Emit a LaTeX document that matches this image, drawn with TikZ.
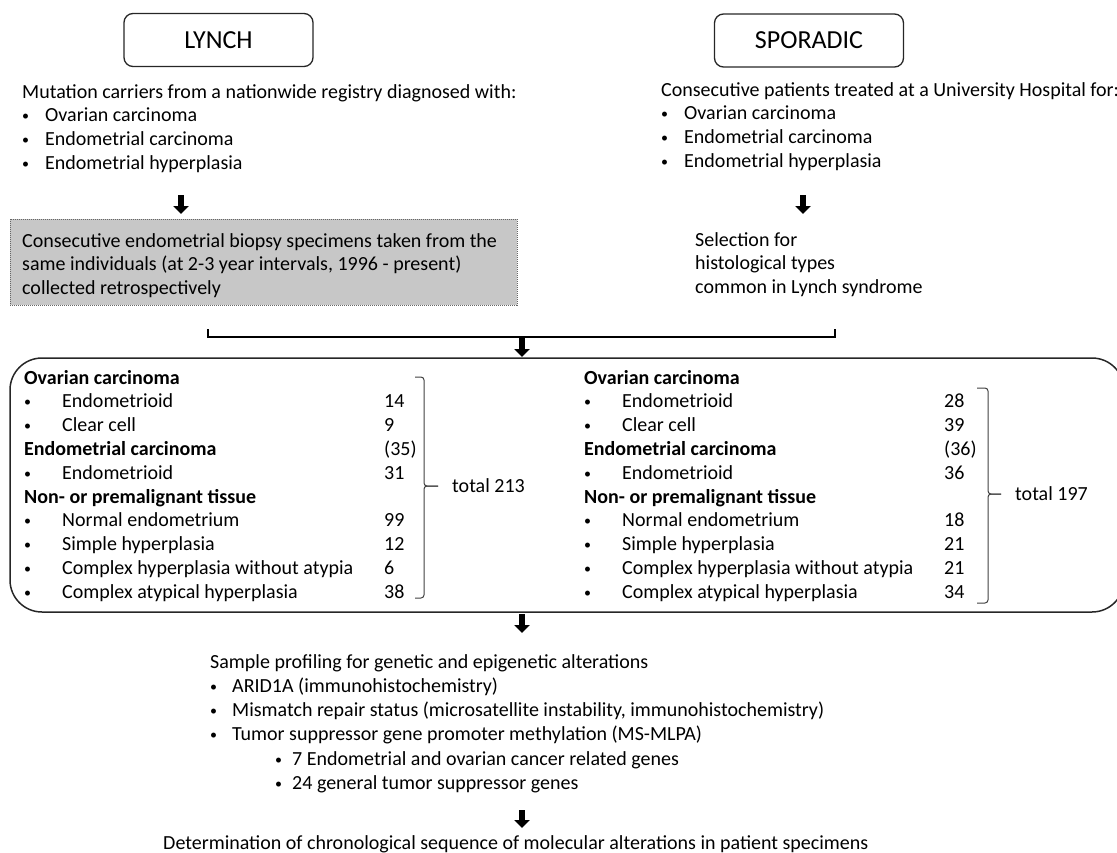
\documentclass[tikz,border=0pt]{standalone}
\usepackage{fontspec}
\usepackage{graphicx}
\setmainfont{Carlito}
\usetikzlibrary{arrows.meta}
\newcommand{\smbul}{\raisebox{1.2pt}{\scalebox{0.7}{\textbullet}}}
\newcommand{\bul}{\makebox[23pt][l]{\smbul}}
\newcommand{\subbul}{\hspace{43pt}\makebox[17pt][l]{\smbul}}

\tikzset{
	every node/.style={inner sep=0pt},
	headbox/.style={draw=black!85, line width=1.3pt, rounded corners=9pt, minimum width=189pt, minimum height=53pt, font=\fontsize{26}{30}\selectfont},
	txt/.style={anchor=base west, font=\fontsize{20}{23.8}\selectfont},
	lowtxt/.style={anchor=base west, font=\fontsize{20}{24.3}\selectfont},
	fatarrow/.style={line width=6pt, -{Triangle[width=15pt,length=8pt]}},
	brace/.style={draw=black!75, line width=1pt, rounded corners=3pt},
}

\begin{document}
\begin{tikzpicture}[x=1pt,y=-1pt]
	\useasboundingbox (0,0) rectangle (1117,852);
	%%%%% TOP %%%%%
	\node[headbox] (lynch) at (218.5,40) {LYNCH};
	\node[headbox] (sporadic) at (809,40.5) {SPORADIC};
	
	\node[txt] (lynchtxt) at (22,98) {\begin{tabular}[t]{@{}l@{}}
		Mutation carriers from a nationwide registry diagnosed with:\\
		\bul Ovarian carcinoma\\
		\bul Endometrial carcinoma\\
		\bul Endometrial hyperplasia
	\end{tabular}};
	\node[txt] (sportxt) at (661,96) {\begin{tabular}[t]{@{}l@{}}
		Consecutive patients treated at a University Hospital for:\\
		\bul Ovarian carcinoma\\
		\bul Endometrial carcinoma\\
		\bul Endometrial hyperplasia
	\end{tabular}};
	
	\coordinate (a1s) at (181,195);
	\coordinate (a1e) at (181,214);
	\draw[fatarrow] (a1s) -- (a1e);
	\coordinate (a2s) at (803,195);
	\coordinate (a2e) at (803,214);
	\draw[fatarrow] (a2s) -- (a2e);
	
	\node[draw=black!60, fill=black!22, dash pattern=on 1pt off 1pt, line width=0.8pt, minimum width=507pt, minimum height=86pt, anchor=north west] (biopsy) at (10,219) {};
	\node[txt] (biopsytxt) at (22,247) {\begin{tabular}[t]{@{}l@{}}
		Consecutive endometrial biopsy specimens taken from the\\
		same individuals (at 2-3 year intervals, 1996 - present)\\
		collected retrospectively
	\end{tabular}};
	\node[txt] (selection) at (695,246) {\begin{tabular}[t]{@{}l@{}}
		Selection for\\
		histological types\\
		common in Lynch syndrome
	\end{tabular}};
	
	%%%%% JOIN %%%%%
	\coordinate (jl) at (208,329);
	\coordinate (jr) at (835,329);
	\draw[line width=2pt] (jl) -- ++(0,8) -| (jr);
	\coordinate (a3s) at (522,337);
	\coordinate (a3e) at (522,357);
	\draw[fatarrow] (a3s) -- (a3e);
	
	%%%%% SPECIMENS %%%%%
	\draw[line width=1.5pt, black!85, rounded corners=32pt] (10,358) rectangle (1124,612);
	\node[txt] (lynchtab) at (24,384) {\begin{tabular}[t]{@{}p{38pt}@{}p{322pt}@{}l@{}}
		\multicolumn{2}{@{}l@{}}{\bfseries Ovarian carcinoma}\\
		\smbul & Endometrioid & 14\\
		\smbul & Clear cell & 9\\
		\multicolumn{2}{@{}l@{}}{\bfseries Endometrial carcinoma} & (35)\\
		\smbul & Endometrioid & 31\\
		\multicolumn{2}{@{}l@{}}{\bfseries Non- or premalignant tissue}\\
		\smbul & Normal endometrium & 99\\
		\smbul & Simple hyperplasia & 12\\
		\smbul & Complex hyperplasia without atypia & 6\\
		\smbul & Complex atypical hyperplasia & 38
	\end{tabular}};
	\node[txt] (sportab) at (584,384) {\begin{tabular}[t]{@{}p{38pt}@{}p{322pt}@{}l@{}}
		\multicolumn{2}{@{}l@{}}{\bfseries Ovarian carcinoma}\\
		\smbul & Endometrioid & 28\\
		\smbul & Clear cell & 39\\
		\multicolumn{2}{@{}l@{}}{\bfseries Endometrial carcinoma} & (36)\\
		\smbul & Endometrioid & 36\\
		\multicolumn{2}{@{}l@{}}{\bfseries Non- or premalignant tissue}\\
		\smbul & Normal endometrium & 18\\
		\smbul & Simple hyperplasia & 21\\
		\smbul & Complex hyperplasia without atypia & 21\\
		\smbul & Complex atypical hyperplasia & 34
	\end{tabular}};
	
	\draw[brace] (415,377) -- (424,377) -- (424,486) -- (438,486);
	\draw[brace] (438,486) -- (424,486) -- (424,598) -- (415,598);
	\node[txt] (total1) at (452,492) {total 213};
	\draw[brace] (977,388) -- (988,388) -- (988,494) -- (1001,494);
	\draw[brace] (1001,494) -- (988,494) -- (988,603) -- (977,603);
	\node[txt] (total2) at (1015,500) {total 197};
	
	%%%%% PROFILING %%%%%
	\coordinate (a4s) at (522,614);
	\coordinate (a4e) at (522,633);
	\draw[fatarrow] (a4s) -- (a4e);
	\node[lowtxt] (profile) at (210,668) {\begin{tabular}[t]{@{}p{22pt}@{}l@{}}
		\multicolumn{2}{@{}l@{}}{Sample profiling for genetic and epigenetic alterations}\\
		\smbul & ARID1A (immunohistochemistry)\\
		\smbul & Mismatch repair status (microsatellite instability, immunohistochemistry)\\
		\smbul & Tumor suppressor gene promoter methylation (MS-MLPA)\\
		& \subbul 7 Endometrial and ovarian cancer related genes\\
		& \subbul 24 general tumor suppressor genes
	\end{tabular}};
	\coordinate (a5s) at (522,810);
	\coordinate (a5e) at (522,828);
	\draw[fatarrow] (a5s) -- (a5e);
	\node[lowtxt] (result) at (163,849) {Determination of chronological sequence of molecular alterations in patient specimens};
\end{tikzpicture}
\end{document}
